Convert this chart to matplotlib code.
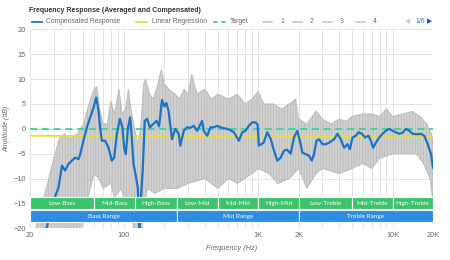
import numpy as np
import matplotlib
matplotlib.use("Agg")
import matplotlib.pyplot as plt
from matplotlib.patches import Rectangle
from matplotlib.ticker import FixedLocator, NullFormatter

plt.rcParams['font.family'] = ['Liberation Sans', 'DejaVu Sans']
plt.rcParams['hatch.linewidth'] = 0.5

# ── data ──
comp_freq = [24, 26, 27.4, 29.9, 32.6, 34.6, 36.5, 38.6, 41, 43.4, 45.9, 47.3, 50, 53,
             56.2, 59.5, 62.2, 64.7, 66.5, 68.5, 72.5, 76.8, 81.3, 84.6, 88.7, 93.3,
             97.5, 100.4, 103.3, 107.4, 111.3, 113.9, 118, 122, 126.8, 130.6, 133.8,
             138, 143, 149, 156, 166, 175, 183, 192, 200, 207, 215, 228, 241, 256, 263,
             279, 295, 313, 331, 351, 372, 382, 393, 417, 441, 467, 495, 524, 555, 588,
             622, 659, 718, 761, 804, 852, 903, 955, 990, 1011, 1097, 1167, 1236, 1310,
             1387, 1468, 1554, 1640, 1743, 1846, 1955, 2070, 2131, 2256, 2390, 2503,
             2603, 2711, 2838, 3007, 3180, 3366, 3670, 3890, 4113, 4356, 4619, 4806,
             5036, 5330, 5580, 5905, 6250, 6628, 6890, 7170, 7510, 7950, 8430, 8920,
             9440, 10000, 10590, 11210, 11880, 12570, 13310, 14110, 15200, 16270,
             17230, 18270, 19330, 20000]
comp_db = [-25, -21, -18.5, -14.5, -11.8, -7.4, -8.4, -7.1, -6.4, -5.8, -6.1, -5.1, -2.4, 0.3,
           2.3, 4.3, 6.3, 3.6, 0.3, -2.4, -2.4, -3.8, -6.4, -5.8, -1, 2,
           0.3, -3.8, -5.1, 0.3, 2.3, -1, -7.1, -9.1, -11.8, -21, -14,
           -8.4, 1.6, 2, 0.3, 1, 1.6, 0.5, 5.8, 4.5, 5.2, 3.6, -2.1, 0, -1, -3.4,
           -0.4, 0.3, 0.2, 0.6, -0.4, 1, 1.6, -0.4, -1.4, 0.3, 0.3, 0.6, 0.3, 0.1, 0,
           -0.3, -0.7, -2.4, -0.7, -0.4, 0.6, 1.3, 1.3, 0.8, -3.4, -2.8, -0.7, -2, -4.4,
           -6.4, -5.8, -4.4, -4.2, -5, -1.75, -0.4, -3.1, -4.8, -5.1, -5.4, -6.4,
           -5.1, -2.4, -2.1, -3.1, -3.1, -2.8, -2.1, -1, -2.1, -3.8, -3.1, -4.1,
           -1.75, -1.4, -0.7, -1, -1.75, -1.4, -2.4, -3.8, -2.8, -1.75, -1, -0.4,
           0, -0.4, -0.7, -1, -0.8, 0, -0.4, -1, -1.1, -1,
           -1.4, -3.1, -5.1, -7.8]

# spread of the individual measurements (upper / lower edge)
up_freq = [20, 22, 24, 27, 30, 33, 36, 40, 45, 50, 55, 60, 63, 66, 70, 75, 80, 85, 92, 97,
           103, 108, 113, 120, 127, 133, 140, 145, 155, 165, 175, 190, 200, 215, 240, 260,
           280, 300, 320, 350, 400, 450, 500, 600, 700, 800, 900, 1000, 1100, 1300, 1500,
           1700, 1900, 2000, 2300, 2700, 3000, 3500, 4000, 4500, 5000, 6000, 7000, 8000,
           9000, 10000, 12000, 14000, 16000, 18000, 19500, 20000]
up_db = [-24, -20, -16, -11, -6, -2, -1, -2, -1, 1, 5, 8, 8.5, 4, 1, 1, 5.5, 3, 8, 3,
         4, 8, 4, 0, -3, 0, 9, 10, 7, 6, 8, 12, 9, 8, 7, 6,
         8, 7, 11, 7, 8, 6, 7, 6, 7, 5, 6, 7.5, 5, 5, 4,
         5, 6, 2, 1, 3.6, 2, 1, 2, 1.5, 2.5, 3, 3, 2.5,
         4, 2.5, 3, 3.5, 2.5, 1, -1, -3]
lo_freq = [20, 45, 50, 55, 60, 65, 70, 80, 85, 95, 100, 110, 115, 120, 135, 140, 150, 170,
           200, 250, 300, 400, 500, 600, 700, 900, 1000, 1200, 1400, 1700, 2000, 2300,
           2700, 3000, 4000, 5000, 6000, 7000, 8000, 10000, 12000, 15000, 17000, 19000,
           20000]
lo_db = [-35, -24, -18, -13, -9, -10, -12, -11, -14, -12, -14, -16, -18, -22, -22, -16,
         -12, -13, -12, -12, -11, -10, -12, -10, -11, -9, -8, -9, -11, -10, -8, -12,
         -9, -8, -9, -8, -7, -8, -6, -5, -5, -5, -7, -10, -15]

reg_freq = [20, 20000]
reg_db = [-1.4, -1.7]
target_db = 0

bands = [("Low-Bass", 20, 60), ("Mid-Bass", 60, 120), ("High-Bass", 120, 250),
         ("Low-Mid", 250, 500), ("Mid-Mid", 500, 1000), ("High-Mid", 1000, 2000),
         ("Low-Treble", 2000, 5000), ("Mid-Treble", 5000, 10000), ("High-Treble", 10000, 20000)]
ranges = [("Bass Range", 20, 250), ("Mid Range", 250, 2000), ("Treble Range", 2000, 20000)]

xticks = [20, 100, 1000, 2000, 10000, 20000]
xticklabels = ["20", "100", "1K", "2K", "10K", "20K"]
yticks = [-20, -15, -10, -5, 0, 5, 10, 15, 20]

BLUE = "#1c72c6"
YELLOW = "#e6df3c"
TEAL = "#3fd392"
GRAY = "#c9c9c9"
BOX_GREEN = "#3cc46c"
BOX_BLUE = "#2f8de0"
TXT = "#666666"

fig = plt.figure(figsize=(4.5, 2.6), dpi=100)
ax = fig.add_axes([30 / 450, 1 - 228.3 / 260, 403 / 450, 199 / 260])
ax.set_xscale("log")
ax.set_xlim(20, 20000)
ax.set_ylim(-20, 20)

# grid
for f in [20, 30, 40, 50, 60, 70, 80, 90, 100, 200, 300, 400, 500, 600, 700, 800, 900,
          1000, 2000, 3000, 4000, 5000, 6000, 7000, 8000, 9000, 10000, 20000]:
    ax.axvline(f, color="#e3e3e3", lw=0.7, zorder=0)
for y in yticks:
    ax.axhline(y, color="#e3e3e3", lw=0.7, zorder=0)

# measurement spread
ax.fill(up_freq + lo_freq[::-1], up_db + lo_db[::-1], fc=GRAY, alpha=0.85,
        lw=0.6, ec="#b3b3b3", hatch="||||||", zorder=1)

ax.plot(reg_freq, reg_db, color=YELLOW, lw=1.3, zorder=2)
ax.plot([20, 20000], [target_db, target_db], color=TEAL, lw=1.3, ls=(0, (4, 2.5)), zorder=2)
ax.plot(comp_freq, comp_db, color=BLUE, lw=1.6, zorder=3)

# band boxes
for name, f0, f1 in bands:
    ax.add_patch(Rectangle((f0, -16.2), f1 - f0, 2.4, fc=BOX_GREEN, ec="white", lw=0.8, zorder=4))
    ax.text(np.sqrt(f0 * f1), -15.0, name, color="white", fontsize=4.6, ha="center",
            va="center", zorder=5, family=["Lato", "DejaVu Sans"])
for name, f0, f1 in ranges:
    ax.add_patch(Rectangle((f0, -18.8), f1 - f0, 2.4, fc=BOX_BLUE, ec="white", lw=0.8, zorder=4))
    ax.text(np.sqrt(f0 * f1), -17.6, name, color="white", fontsize=4.6, ha="center",
            va="center", zorder=5, family=["Lato", "DejaVu Sans"])

for s in ax.spines.values():
    s.set_visible(False)
ax.xaxis.set_major_locator(FixedLocator(xticks))
ax.set_xticklabels(xticklabels)
ax.xaxis.set_minor_formatter(NullFormatter())
ax.set_yticks(yticks)
ax.tick_params(length=0, labelsize=5.3, labelcolor=TXT, pad=3)
ax.tick_params(which="minor", length=0)
ax.set_xlabel("Frequency (Hz)", fontsize=5.3, style="italic", color=TXT, labelpad=4)
ax.set_ylabel("Amplitude (dB)", fontsize=5.0, style="italic", color=TXT, labelpad=2)

# title + legend row
fig.text(29 / 450, 1 - 10 / 260, "Frequency Response (Averaged and Compensated)",
         fontsize=5.0, fontweight="bold", color="#333333", va="center")
ly = 1 - 21.7 / 260
def leg_line(x0, x1, color, ls="-"):
    fig.add_artist(plt.Line2D([x0 / 450, x1 / 450], [ly, ly], color=color, lw=1.3, ls=ls))
def leg_text(x, s, color=TXT):
    fig.text(x / 450, ly, s, fontsize=4.9, color=color, va="center")
leg_line(32, 42, BLUE); leg_text(45.5, "Compensated Response")
leg_line(136, 147, YELLOW); leg_text(151.5, "Linear Regression")
leg_line(213, 227, TEAL, (0, (2.5, 2))); leg_text(230, "Target")
for x0, lab in [(263, "1"), (293, "2"), (323, "3"), (356, "4")]:
    leg_line(x0, x0 + 9, "#cccccc", "-")
    leg_text(x0 + 17, lab)
leg_text(405, "◀", "#cfcfcf")
leg_text(415, "1/6", "#3a6fd0")
leg_text(427, "▶", "#1f4fd0")

fig.savefig("out.png", dpi=100)
